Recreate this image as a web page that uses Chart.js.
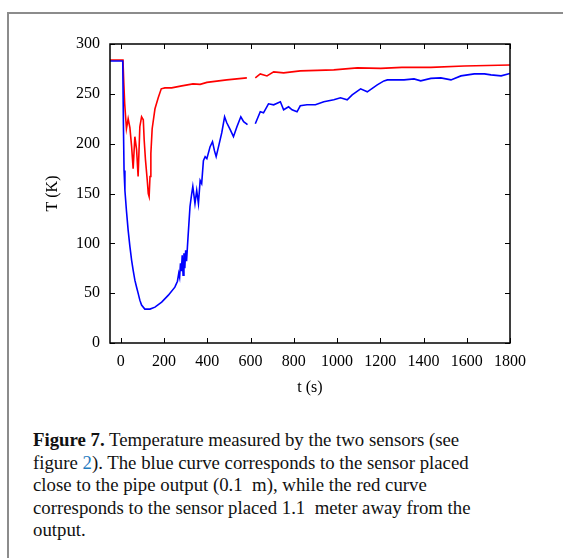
<!DOCTYPE html>
<html>
<head>
<meta charset="utf-8">
<script src="https://cdn.jsdelivr.net/npm/chart.js@4.4.1/dist/chart.umd.min.js"></script>
<style>
  body { margin: 0; background: #fff; width: 563px; height: 558px; overflow: hidden; position: relative; font-family: "Liberation Serif", "Times New Roman", serif; }
  #frame { position: absolute; left: 7px; top: 12px; width: 620px; height: 620px; border-left: 2px solid #8c8c8c; border-top: 2px solid #8c8c8c; }
  #wrap { position: absolute; left: 0; top: 0; width: 563px; height: 420px; }
  #caption { position: absolute; left: 33px; top: 429px; width: 520px; font-size: 18.8px; line-height: 22.5px; color: #111; white-space: nowrap; }
  #caption a { color: #1f7bbf; text-decoration: none; }
</style>
</head>
<body>
<div id="frame"></div>
<div id="wrap"><canvas id="chart"></canvas></div>
<div id="caption"><b>Figure 7.</b> Temperature measured by the two sensors (see<br>figure <a>2</a>). The blue curve corresponds to the sensor placed<br>close to the pipe output (0.1&nbsp; m), while the red curve<br>corresponds to the sensor placed 1.1&nbsp; meter away from the<br>output.</div>
<script>
// ticks de los ejes
const xTicks = [0, 200, 400, 600, 800, 1000, 1200, 1400, 1600, 1800];
const yTicks = [0, 50, 100, 150, 200, 250, 300];

// sensor azul (0.1 m), tiempo en s y temperatura en K (null = hueco)
const blueTime = [
  -50, 0, 9, 12, 15, 19, 26, 34, 42, 50,
  57, 65, 73, 80, 88, 96, 111, 135, 158, 189,
  220, 250, 262, 268, 272, 276, 280, 284, 288, 292,
  296, 300, 304, 308, 312, 320, 328, 333, 343, 351,
  359, 367, 374, 382, 390, 398, 413, 424, 433, 441,
  452, 467, 480, 490, 506, 521, 537, 555, 568, 586,
  600, 622, 645, 660, 683, 707, 738, 753, 776, 792,
  815, 830, 861, 900, 939, 985, 1016, 1047, 1070, 1109,
  1140, 1186, 1217, 1233, 1264, 1310, 1356, 1387, 1434, 1480,
  1527, 1573, 1635, 1682, 1712, 1759, 1800
];
const blueTemp = [
  283, 283, 283, 220, 173, 153, 133, 113, 97, 83,
  73, 63, 56, 50, 43, 38, 34, 34, 36, 41,
  48, 56, 62, 70, 66, 80, 72, 88, 68, 90,
  75, 93, 82, 96, 110, 137, 150, 157, 140, 153,
  140, 163, 160, 183, 187, 185, 197, 202, 193, 187,
  197, 211, 227, 221, 214, 207, 217, 227, 222, 219,
  null, 220, 232, 231, 240, 239, 242, 234, 237, 234,
  232, 238, 239, 239, 242, 244, 246, 244, 249, 255,
  252, 259, 263, 264, 264, 264, 265, 263, 265.5, 266,
  264, 268, 270, 270, 269, 268, 270.5
];

// sensor rojo (1.1 m)
const redTime = [
  -50, 0, 10, 14, 18, 26, 34, 42, 50, 57,
  65, 73, 80, 88, 96, 104, 108, 114, 122, 127,
  131, 135, 139, 145, 158, 173, 187, 204, 235, 282,
  334, 367, 398, 490, 583, 600, 622, 645, 676, 707,
  753, 830, 908, 985, 1094, 1202, 1300, 1434, 1588, 1800
];
const redTemp = [
  284, 284, 284, 260, 240, 215, 225, 216, 197, 175,
  207, 194, 167, 217, 227, 224, 204, 184, 164, 150,
  147, 167, 190, 215, 235, 246, 255, 256, 256, 258,
  260, 259.5, 261.5, 264, 266, null, 266, 270, 268, 272,
  271, 273, 273.5, 274, 276, 275.5, 276.5, 276.5, 278, 279
];

function toPoints(ts, vs) {
  return ts.map((t, i) => ({ x: t, y: vs[i] }));
}

const serif = '"Liberation Serif", "Times New Roman", serif';

// marco completo y ticks hacia dentro en los cuatro lados
const frameTicks = {
  id: 'frameTicks',
  afterDraw(chart) {
    const { ctx, chartArea: a, scales } = chart;
    ctx.save();
    ctx.strokeStyle = '#000';
    ctx.lineWidth = 1.5;
    ctx.strokeRect(a.left, a.top, a.right - a.left, a.bottom - a.top);
    ctx.lineWidth = 1;
    ctx.beginPath();
    scales.x.ticks.forEach(t => {
      const px = Math.round(scales.x.getPixelForValue(t.value)) + 0.5;
      ctx.moveTo(px, a.bottom); ctx.lineTo(px, a.bottom - 5);
      ctx.moveTo(px, a.top); ctx.lineTo(px, a.top + 5);
    });
    scales.y.ticks.forEach(t => {
      const py = Math.round(scales.y.getPixelForValue(t.value)) + 0.5;
      ctx.moveTo(a.left, py); ctx.lineTo(a.left + 5, py);
      ctx.moveTo(a.right, py); ctx.lineTo(a.right - 5, py);
    });
    ctx.stroke();
    ctx.restore();
  }
};

new Chart(document.getElementById('chart').getContext('2d'), {
  type: 'line',
  data: {
    datasets: [
      { data: toPoints(blueTime, blueTemp), borderColor: '#0000ff', borderWidth: 1.6, pointRadius: 0, tension: 0, spanGaps: false },
      { data: toPoints(redTime, redTemp), borderColor: '#ff0000', borderWidth: 1.6, pointRadius: 0, tension: 0, spanGaps: false }
    ]
  },
  options: {
    responsive: true,
    maintainAspectRatio: false,
    animation: false,
    layout: { padding: { top: 44, right: 53, left: 0, bottom: 0 } },
    plugins: { legend: { display: false }, tooltip: { enabled: false } },
    scales: {
      x: {
        type: 'linear',
        min: -50,
        max: 1800,
        afterBuildTicks: s => { s.ticks = xTicks.map(v => ({ value: v })); },
        afterFit: s => { s.height = 77; },
        grid: { display: false, drawTicks: false },
        border: { display: false },
        ticks: { color: '#000', font: { family: serif, size: 16 }, padding: 9, maxRotation: 0, callback: v => String(v) },
        title: { display: true, text: 't (s)', color: '#000', font: { family: serif, size: 16 }, padding: { top: 0, bottom: 23 } }
      },
      y: {
        type: 'linear',
        min: 0,
        max: 300,
        afterBuildTicks: s => { s.ticks = yTicks.map(v => ({ value: v })); },
        afterFit: s => { s.width = 110; },
        grid: { display: false, drawTicks: false },
        border: { display: false },
        ticks: { color: '#000', font: { family: serif, size: 16 }, padding: 10, callback: v => String(v) },
        title: { display: true, text: 'T (K)', color: '#000', font: { family: serif, size: 16 }, padding: { top: 43, bottom: 0 } }
      }
    }
  },
  plugins: [frameTicks]
});
</script>
</body>
</html>
